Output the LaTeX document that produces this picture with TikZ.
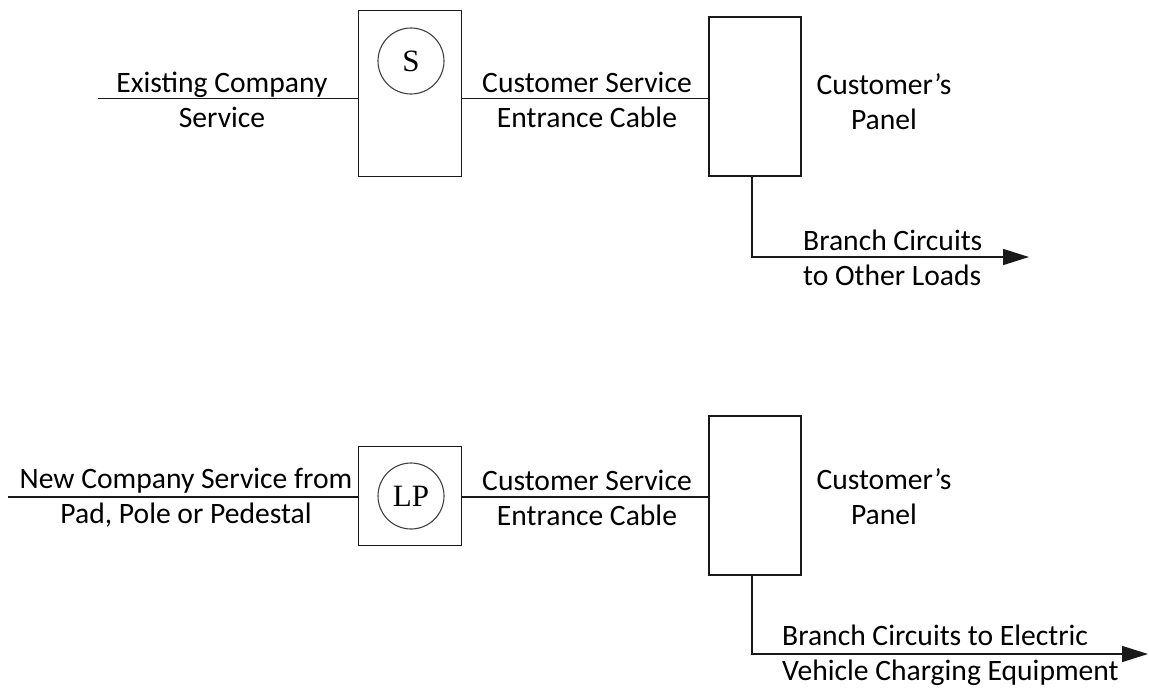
\documentclass[tikz,border=0pt]{standalone}
\usepackage{fontspec}
\setmainfont{Carlito}
\newfontfamily\circfont{Liberation Serif}
\usetikzlibrary{arrows.meta}
\begin{document}
\begin{tikzpicture}[x=1pt,y=-1pt,
  wire/.style={line width=1.4pt,draw=black!90},
  boxst/.style={draw=black!90,line width=1.4pt,rectangle,inner sep=0pt},
  meter/.style={draw=black!75,line width=1.1pt,circle,inner sep=0pt,minimum size=66pt,font=\circfont\fontsize{31}{34}\selectfont},
  lbl/.style={inner sep=0pt,align=center,font=\fontsize{29.6}{35}\selectfont},
  lbll/.style={inner sep=0pt,align=left,anchor=west,font=\fontsize{29.6}{35}\selectfont},
  tip/.style={-{Triangle[length=26pt,width=16pt]}}]
\useasboundingbox (0,0) rectangle (1149,688);
% ---------- top ----------
\node[boxst,minimum width=103pt,minimum height=166pt] (boxS) at (410,93.5) {};
\node[meter] (S) at (411,61) {S};
\node[boxst,minimum width=92pt,minimum height=159pt] (panA) at (755,96.5) {};
\coordinate (inA) at (98,98.5);
\draw[wire] (inA) -- (boxS.west |- inA);
\draw[wire] (boxS.east |- inA) -- (panA.west |- inA);
\coordinate (bA) at (752,257);
\coordinate (eA) at (1029,257);
\draw[wire,tip] (panA.south -| bA) -- (bA) -- (eA);
\node[lbl] (tExist) at (222,100) {Existing Company\\Service};
\node[lbl] (tCableA) at (587,100) {Customer Service\\Entrance Cable};
\node[lbl] (tPanA) at (884,102) {Customer’s\\Panel};
\node[lbll] (tBrA) at (803,258) {Branch Circuits\\to Other Loads};
% ---------- bottom ----------
\node[boxst,minimum width=103pt,minimum height=99pt] (boxLP) at (410,496) {};
\node[meter] (LP) at (411,496) {LP};
\node[boxst,minimum width=92pt,minimum height=159pt] (panB) at (755,495.5) {};
\coordinate (inB) at (8,497);
\draw[wire] (inB) -- (boxLP.west |- inB);
\draw[wire] (boxLP.east |- inB) -- (panB.west |- inB);
\coordinate (bB) at (752,654);
\coordinate (eB) at (1148,654);
\draw[wire,tip] (panB.south -| bB) -- (bB) -- (eB);
\node[lbl] (tNew) at (186,498) {New Company Service from\\Pad, Pole or Pedestal};
\node[lbl] (tCableB) at (587,498) {Customer Service\\Entrance Cable};
\node[lbl] (tPanB) at (884,497) {Customer’s\\Panel};
\node[lbll] (tBrB) at (782,655) {Branch Circuits to Electric\\Vehicle Charging Equipment};
\end{tikzpicture}
\end{document}
